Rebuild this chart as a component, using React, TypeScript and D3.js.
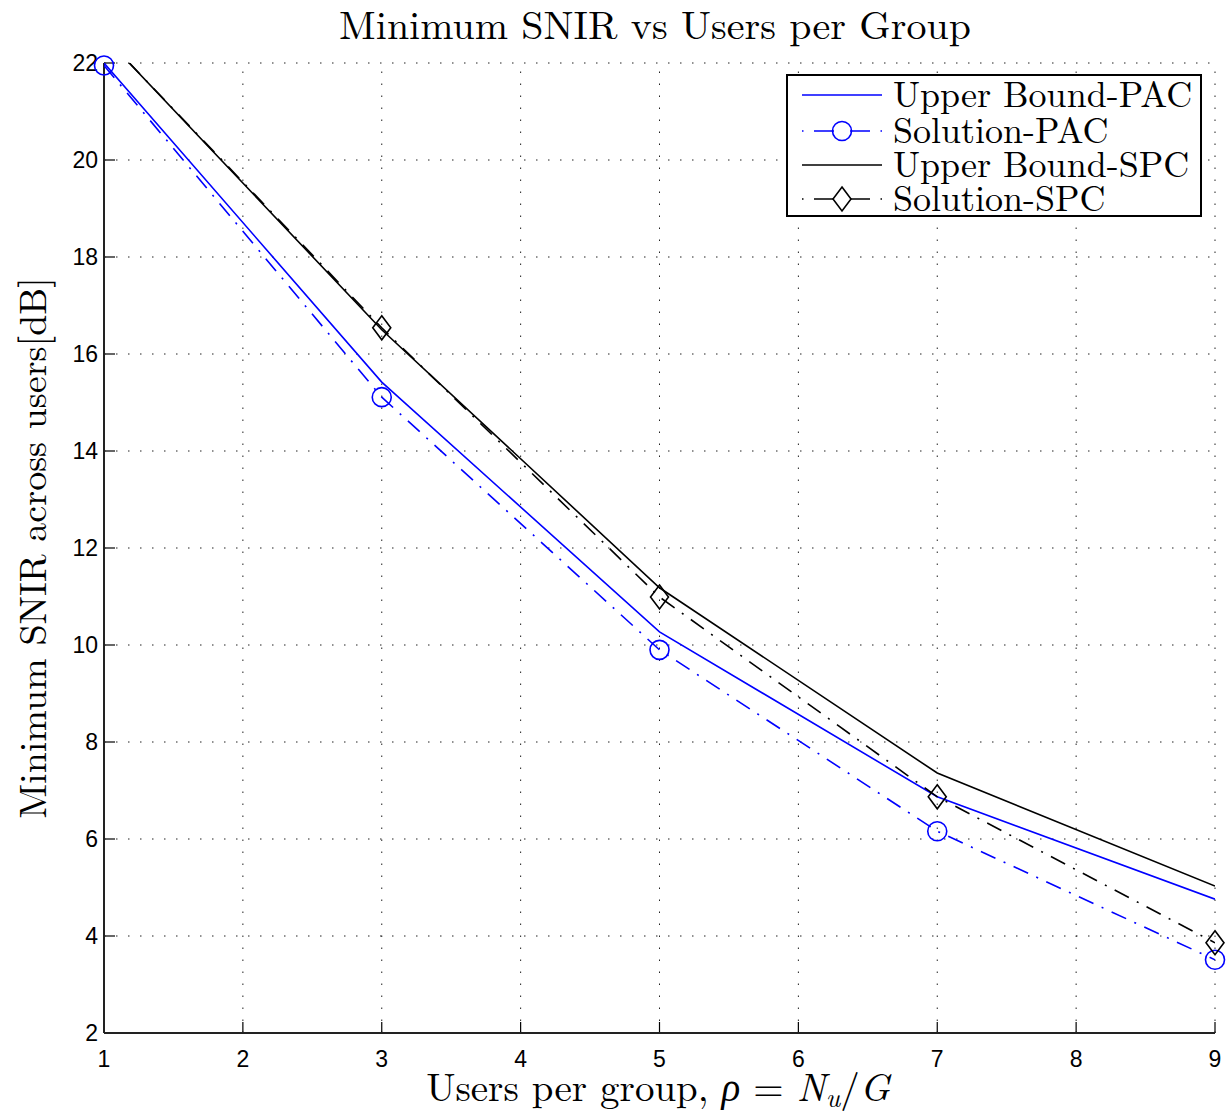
import React from "react";
import * as d3 from "d3";

const xValues = [1, 3, 5, 7, 9];
const upperPAC = [22.0, 15.42, 10.27, 6.87, 4.76];
const solutionPAC = [21.95, 15.11, 9.9, 6.16, 3.51];
const upperSPC = [22.55, 16.5, 11.18, 7.36, 5.03];
const solutionSPC = [22.55, 16.54, 10.99, 6.87, 3.86];
const xTicks = [1, 2, 3, 4, 5, 6, 7, 8, 9];
const yTicks = [2, 4, 6, 8, 10, 12, 14, 16, 18, 20, 22];
const legendLabels = ["Upper Bound-PAC", "Solution-PAC", "Upper Bound-SPC", "Solution-SPC"];

const W = 1227;
const H = 1118;
const L = 104, R = 1215, T = 63, B = 1033;

export default function App() {
  const x = d3.scaleLinear().domain([1, 9]).range([L, R]);
  const y = d3.scaleLinear().domain([2, 22]).range([B, T]);
  const line = d3.line<number>().x((_, i) => x(xValues[i])).y((d) => y(d));
  const serif = "'Latin Modern Roman','CMU Serif','Liberation Serif','DejaVu Serif',serif";
  const sans = "'Liberation Sans', Arial, Helvetica, sans-serif";
  const blue = "#0000ff";
  const dashDot = "16,9,2,9";

  const series = [
    { data: upperPAC, color: blue, dash: undefined as string | undefined, marker: "none" },
    { data: solutionPAC, color: blue, dash: dashDot, marker: "circle" },
    { data: upperSPC, color: "#000", dash: undefined, marker: "none" },
    { data: solutionSPC, color: "#000", dash: dashDot, marker: "diamond" },
  ];

  const marker = (m: string, cx: number, cy: number, color: string, key: string) => {
    if (m === "circle") return <circle key={key} cx={cx} cy={cy} r={9.5} fill="none" stroke={color} strokeWidth={1.6} />;
    if (m === "diamond")
      return (
        <path key={key} d={`M${cx},${cy - 12}L${cx + 9},${cy}L${cx},${cy + 12}L${cx - 9},${cy}Z`} fill="none" stroke={color} strokeWidth={1.6} />
      );
    return null;
  };

  const legX = 787, legY = 75, legW = 414, legH = 141;
  const rowY = [95, 131, 165, 199];

  return (
    <svg width={W} height={H} style={{ position: "absolute", left: 0, top: 0, background: "#fff" }}>
      <rect x={0} y={0} width={W} height={H} fill="#fff" />
      <defs>
        <clipPath id="plotClip">
          <rect x={L} y={T} width={R - L} height={B - T} />
        </clipPath>
      </defs>
      {/* grid */}
      {xTicks.slice(1).map((t) => (
        <line key={"gx" + t} x1={x(t)} x2={x(t)} y1={B} y2={T} stroke="#222" strokeWidth={1} strokeDasharray="1.5,10.5" />
      ))}
      {yTicks.slice(1).map((t) => (
        <line key={"gy" + t} x1={L} x2={R} y1={y(t)} y2={y(t)} stroke="#222" strokeWidth={1} strokeDasharray="1.5,10.5" />
      ))}
      {/* ticks */}
      {xTicks.map((t) => (
        <line key={"tx" + t} x1={x(t)} x2={x(t)} y1={B} y2={B - 11} stroke="#000" strokeWidth={1.2} />
      ))}
      {yTicks.map((t) => (
        <line key={"ty" + t} x1={L} x2={L + 11} y1={y(t)} y2={y(t)} stroke="#000" strokeWidth={1.2} />
      ))}
      {/* axes */}
      <line x1={L} x2={L} y1={T} y2={B} stroke="#222" strokeWidth={2} />
      <line x1={L} x2={R} y1={B} y2={B} stroke="#222" strokeWidth={2} />
      {/* tick labels */}
      {xTicks.map((t) => (
        <text key={"lx" + t} x={x(t)} y={B + 34} textAnchor="middle" fontFamily={sans} fontSize={23}>{t}</text>
      ))}
      {yTicks.map((t) => (
        <text key={"ly" + t} x={L - 6} y={y(t) + 8} textAnchor="end" fontFamily={sans} fontSize={23}>{t}</text>
      ))}
      {/* series */}
      <g clipPath="url(#plotClip)">
        {series.map((s, i) => (
          <path key={"s" + i} d={line(s.data) || ""} fill="none" stroke={s.color} strokeWidth={1.6} strokeDasharray={s.dash} />
        ))}
      </g>
      {series.map((s, i) =>
        s.data.map((v, j) => (v <= 22 ? marker(s.marker, x(xValues[j]), y(v), s.color, `m${i}-${j}`) : null))
      )}
      {/* title */}
      <text x={655} y={39} textAnchor="middle" fontFamily={serif} fontSize={40}>Minimum SNIR vs Users per Group</text>
      {/* y label */}
      <text transform={`translate(46,548) rotate(-90)`} textAnchor="middle" fontFamily={serif} fontSize={38}>Minimum SNIR across users[dB]</text>
      {/* x label */}
      <text x={658} y={1101} textAnchor="middle" fontFamily={serif} fontSize={39}>
        Users per group, <tspan fontStyle="italic">ρ</tspan> = <tspan fontStyle="italic">N</tspan>
        <tspan fontStyle="italic" fontSize={27} dy={6}>u</tspan>
        <tspan dy={-6}>/</tspan><tspan fontStyle="italic">G</tspan>
      </text>
      {/* legend */}
      <rect x={legX} y={legY} width={legW} height={legH} fill="#fff" stroke="#000" strokeWidth={2} />
      {series.map((s, i) => (
        <g key={"leg" + i}>
          <line x1={802} x2={882} y1={rowY[i]} y2={rowY[i]} stroke={s.color} strokeWidth={1.6} strokeDasharray={s.dash ? "1.5,10.5,20,16,20,10.5,1.5" : undefined} />
          {marker(s.marker, 842, rowY[i], s.color, "lm" + i)}
          <text x={893} y={rowY[i] + 12} fontFamily={serif} fontSize={36}>{legendLabels[i]}</text>
        </g>
      ))}
    </svg>
  );
}
